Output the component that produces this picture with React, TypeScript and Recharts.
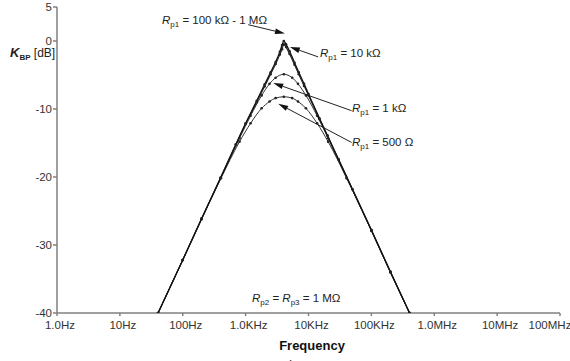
import React from "react";
import { LineChart, Line, XAxis, YAxis, ReferenceLine } from "recharts";

// ---- Data ----
const X_TICKS = [1, 10, 100, 1000, 10000, 100000, 1000000, 10000000, 100000000];
const X_TICK_LABELS = ["1.0Hz", "10Hz", "100Hz", "1.0KHz", "10KHz", "100KHz", "1.0MHz", "10MHz", "100MHz"];
const Y_TICKS = [-40, -30, -20, -10, 0, 5];

// Rp1 = 100 kΩ - 1 MΩ
const FREQ_A = [40.5, 100, 200, 400, 700, 1000, 1500, 2000, 2500, 3000, 3500, 3800, 4050, 4400, 5000, 6000, 7000, 8500, 10000, 15000, 20000, 30000, 50000, 100000, 200000, 405000];
const DB_A = [-40, -32.2, -26.1, -20.1, -15.2, -12.1, -8.8, -6.4, -4.6, -3.1, -1.6, -0.6, 0, -0.5, -1.5, -3.2, -4.6, -6.3, -7.8, -11.4, -13.9, -17.4, -21.8, -27.8, -33.9, -40];

// Rp1 = 10 kΩ
const FREQ_B = [40.5, 100, 200, 400, 700, 1000, 1500, 2000, 2500, 3000, 3500, 3800, 4050, 4400, 5000, 6000, 7000, 8500, 10000, 15000, 20000, 30000, 50000, 100000, 200000, 405000];
const DB_B = [-40, -32.2, -26.1, -20.1, -15.2, -12.2, -9.0, -6.7, -4.9, -3.4, -2.0, -1.2, -0.5, -0.9, -1.9, -3.5, -4.9, -6.6, -8.0, -11.5, -13.9, -17.4, -21.8, -27.8, -33.9, -40];

// Rp1 = 1 kΩ
const FREQ_C = [40.5, 100, 200, 405, 800, 1200, 1800, 2400, 3000, 4050, 5500, 6800, 9100, 13700, 20500, 40500, 100000, 200000, 405000];
const DB_C = [-40, -32.2, -26.1, -20.1, -14.3, -11.0, -8.0, -6.3, -5.4, -4.9, -5.4, -6.3, -8.0, -11.0, -14.3, -20.1, -27.9, -34.0, -40];

// Rp1 = 500 Ω
const FREQ_D = [40.5, 100, 200, 405, 800, 1200, 1800, 2400, 3000, 4050, 5500, 6800, 9100, 13700, 20500, 40500, 100000, 200000, 405000];
const DB_D = [-40, -32.2, -26.2, -20.2, -14.8, -12.1, -9.9, -8.9, -8.4, -8.2, -8.4, -8.9, -9.9, -12.1, -14.8, -20.2, -27.9, -34.0, -40];

const zip = (f: number[], d: number[]) => f.map((v, i) => ({ f: v, db: d[i] }));
const seriesA = zip(FREQ_A, DB_A);
const seriesB = zip(FREQ_B, DB_B);
const seriesC = zip(FREQ_C, DB_C);
const seriesD = zip(FREQ_D, DB_D);

// Annotation arrows (data coordinates: start -> tip)
const ARROWS = [
  [{ x: 1100, y: 2.4 }, { x: 4220, y: 1.1 }],
  [{ x: 14260, y: -2.34 }, { x: 5060, y: -0.87 }],
  [{ x: 48450, y: -10.25 }, { x: 2750, y: -6.17 }],
  [{ x: 48450, y: -14.92 }, { x: 3300, y: -9.22 }],
];

const FONT = "'Liberation Sans', Arial, sans-serif";

const Arrow = (props: any) => {
  const { x1, y1, x2, y2 } = props;
  if ([x1, y1, x2, y2].some((v) => typeof v !== "number" || isNaN(v))) return null;
  const dx = x2 - x1;
  const dy = y2 - y1;
  const len = Math.sqrt(dx * dx + dy * dy) || 1;
  const ux = dx / len;
  const uy = dy / len;
  const hl = 10;
  const hw = 2.8;
  const bx = x2 - ux * hl;
  const by = y2 - uy * hl;
  const pts = `${x2},${y2} ${bx - uy * hw},${by + ux * hw} ${bx + uy * hw},${by - ux * hw}`;
  return (
    <g>
      <line x1={x1} y1={y1} x2={bx} y2={by} stroke="#222" strokeWidth={1} />
      <polygon points={pts} fill="#111" />
    </g>
  );
};

const XTick = (props: any) => {
  const { x, y, payload } = props;
  const idx = X_TICKS.indexOf(payload.value);
  const label = idx >= 0 ? X_TICK_LABELS[idx] : String(payload.value);
  const shift = idx === X_TICKS.length - 1 ? -10 : 3;
  return (
    <text x={x + shift} y={y} dy="0.71em" textAnchor="middle" fontSize={11.5} fill="#333" fontFamily={FONT}>
      {label}
    </text>
  );
};

const SmallDot = (props: any) => {
  const { cx, cy } = props;
  if (typeof cx !== "number" || typeof cy !== "number") return null;
  return <circle cx={cx} cy={cy} r={1.3} fill="#222" />;
};

const RLabel = ({ x, y, sub, rest }: { x: number; y: number; sub: string; rest: string }) => (
  <text x={x} y={y} fontSize={11.5} fill="#222" fontFamily={FONT}>
    <tspan fontStyle="italic">R</tspan>
    <tspan fontSize={8} dy={3}>{sub}</tspan>
    <tspan dy={-3}>{rest}</tspan>
  </text>
);

export default function App() {
  return (
    <div style={{ position: "absolute", left: 0, top: 0, width: 570, height: 361, background: "#fff" }}>
      <LineChart
        width={570}
        height={361}
        margin={{ top: 7, right: 10, bottom: 0, left: 0 }}
        style={{ fontFamily: FONT }}
      >
        <XAxis
          type="number"
          dataKey="f"
          scale="log"
          domain={[1, 100000000]}
          ticks={X_TICKS}
          allowDataOverflow
          height={48}
          tickSize={3}
          tickMargin={5}
          stroke="#808080"
          strokeWidth={1.5}
          tick={<XTick />}
          interval={0}
        />
        <YAxis
          type="number"
          dataKey="db"
          domain={[-40, 5]}
          ticks={Y_TICKS}
          allowDataOverflow
          width={57}
          tickSize={4}
          tickMargin={1}
          stroke="#808080"
          strokeWidth={1.5}
          tick={{ fontSize: 11.5, fill: "#333", fontFamily: FONT }}
          interval={0}
        />
        <Line data={seriesD} dataKey="db" type="monotone" stroke="#333" strokeWidth={1} dot={<SmallDot />} isAnimationActive={false} />
        <Line data={seriesC} dataKey="db" type="monotone" stroke="#333" strokeWidth={1} dot={<SmallDot />} isAnimationActive={false} />
        <Line data={seriesB} dataKey="db" type="monotone" stroke="#222" strokeWidth={1.1} dot={<SmallDot />} isAnimationActive={false} />
        <Line data={seriesA} dataKey="db" type="monotone" stroke="#111" strokeWidth={1.3} dot={<SmallDot />} isAnimationActive={false} />
        {ARROWS.map((seg, i) => (
          <ReferenceLine key={i} segment={seg as any} ifOverflow="visible" shape={(p: any) => <Arrow {...p} />} />
        ))}
      </LineChart>
      <svg width={570} height={361} style={{ position: "absolute", left: 0, top: 0, pointerEvents: "none" }}>
        <text x={10} y={57} fontFamily={FONT} fill="#222">
          <tspan fontSize={13} fontWeight="bold" fontStyle="italic">K</tspan>
          <tspan fontSize={8} fontWeight="bold" dy={3}>BP</tspan>
          <tspan fontSize={12} dy={-3}> [dB]</tspan>
        </text>
        <RLabel x={162} y={24} sub="p1" rest=" = 100 kΩ - 1 MΩ" />
        <RLabel x={320} y={57} sub="p1" rest=" = 10 kΩ" />
        <RLabel x={352} y={112} sub="p1" rest=" = 1 kΩ" />
        <RLabel x={352} y={146} sub="p1" rest=" = 500 Ω" />
        <text x={252} y={302} fontSize={11.5} fill="#222" fontFamily={FONT}>
          <tspan fontStyle="italic">R</tspan>
          <tspan fontSize={8} dy={3}>p2</tspan>
          <tspan dy={-3}> = </tspan>
          <tspan fontStyle="italic">R</tspan>
          <tspan fontSize={8} dy={3}>p3</tspan>
          <tspan dy={-3}> = 1 MΩ</tspan>
        </text>
        <text x={312} y={350} textAnchor="middle" fontSize={13} fontWeight="bold" fill="#111" fontFamily={FONT}>
          Frequency
        </text>
        <text x={283} y={369} fontSize={13} fill="#222" fontFamily={FONT}>
          c)
        </text>
      </svg>
    </div>
  );
}
